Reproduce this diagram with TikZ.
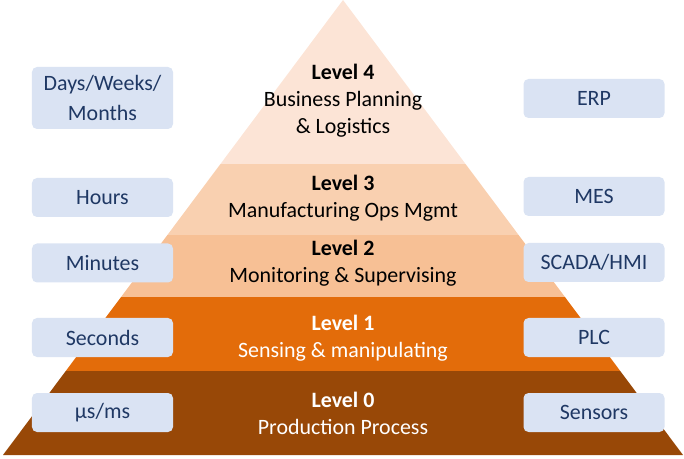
\documentclass[tikz,border=0pt]{standalone}
\usepackage{fontspec}
\setmainfont{Carlito}
\definecolor{lfour}{HTML}{FCE4D6}
\definecolor{lthree}{HTML}{F9D0B0}
\definecolor{ltwo}{HTML}{F7C095}
\definecolor{lone}{HTML}{E36C0A}
\definecolor{lzero}{HTML}{984807}
\definecolor{boxfill}{HTML}{DAE3F3}
\definecolor{boxtext}{HTML}{1F3864}
\begin{document}
\begin{tikzpicture}[x=1bp,y=-1bp,
  tbox/.style={fill=boxfill, rounded corners=5bp, text=boxtext, align=center,
    minimum width=141bp, minimum height=39bp, inner sep=0pt,
    font=\fontsize{22}{31}\selectfont},
  lvl/.style={align=center, font=\fontsize{22}{27}\selectfont, inner sep=0pt}]
\useasboundingbox (0,0) rectangle (684,459);
\begin{scope}
  \clip (343,0) -- (683,455) -- (3,455) -- cycle;
  \fill[lfour] (0,0) rectangle (684,164);
  \fill[lthree] (0,164) rectangle (684,235);
  \fill[ltwo] (0,235) rectangle (684,297);
  \fill[lone] (0,297) rectangle (684,370.5);
  \fill[lzero] (0,370.5) rectangle (684,456);
\end{scope}
% level texts
\node[lvl] (lv4) at (343,101) {\textbf{Level 4}\\Business Planning\\\& Logistics};
\node[lvl] (lv3) at (343,198.5) {\textbf{Level 3}\\Manufacturing Ops Mgmt};
\node[lvl] (lv2) at (343,263.5) {\textbf{Level 2}\\Monitoring \& Supervising};
\node[lvl, text=white] (lv1) at (343,338.5) {\textbf{Level 1}\\Sensing \& manipulating};
\node[lvl, text=white] (lv0) at (343,413.5) {\textbf{Level 0}\\Production Process};
% left boxes
\node[tbox, minimum height=62bp] (tdays) at (102.5,98) {Days/Weeks/\\Months};
\node[tbox] (thours) at (102.5,197.5) {Hours};
\node[tbox] (tmin) at (102.5,263) {Minutes};
\node[tbox] (tsec) at (102.5,337.5) {Seconds};
\node[tbox] (tus) at (102.5,412.5) {µs/ms};
% right boxes
\node[tbox] (erp) at (594,98.5) {ERP};
\node[tbox] (mes) at (594,196.5) {MES};
\node[tbox] (scada) at (594,262.5) {SCADA/HMI};
\node[tbox] (plc) at (594,337.5) {PLC};
\node[tbox] (sens) at (594,412.5) {Sensors};
\end{tikzpicture}
\end{document}
